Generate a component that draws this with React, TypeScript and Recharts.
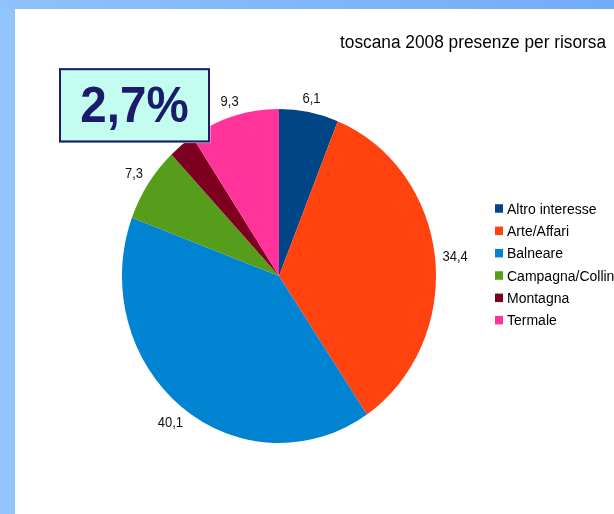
import { PieChart, Pie, Cell, Legend } from 'recharts'

// dati: presenze per risorsa, Toscana 2008 (%)
const categories = ['Altro interesse', 'Arte/Affari', 'Balneare', 'Campagna/Collina', 'Montagna', 'Termale']
const values = [6.1, 34.4, 40.1, 7.3, 2.7, 9.3]
const colors = ['#004586', '#ff420e', '#0084d1', '#579d1c', '#7e0021', '#ff3399']
const title = 'toscana 2008 presenze per risorsa'
const highlight = '2,7%'

const data = categories.map((name, i) => ({ name, value: values[i] }))

// the original image is stretched vertically, so the whole drawing is too
const K = 1.0637
const FONT = "'Liberation Sans', Arial, sans-serif"
const RAD = Math.PI / 180

const renderLabel = (props: any) => {
  const { cx, cy, midAngle, outerRadius, value } = props
  const a = -midAngle * RAD
  const cos = Math.cos(a)
  const sin = Math.sin(a)
  const text = String(value).replace('.', ',')
  const w = (text.length - 1) * 7.23 + 3.6
  const h = 9.5
  const o = 7 + (Math.abs(cos) * w) / 2 + (Math.abs(sin) * h) / 2
  const x = cx + (outerRadius + o) * cos
  const y = cy + (outerRadius + o) * sin
  return (
    <text x={x} y={y} textAnchor="middle" dominantBaseline="central" fontSize={13} fontFamily={FONT} fill="#111">
      {text}
    </text>
  )
}

const renderLegend = (props: any) => {
  const payload = props.payload || []
  return (
    <div style={{ fontFamily: FONT, fontSize: 14, color: '#000' }}>
      {payload.map((entry: any, i: number) => (
        <div key={i} style={{ height: 21, display: 'flex', alignItems: 'center', whiteSpace: 'nowrap' }}>
          <span style={{ width: 8, height: 8, background: entry.color || colors[i], marginRight: 4, flex: 'none' }} />
          <span>{entry.value}</span>
        </div>
      ))}
    </div>
  )
}

export default function App() {
  return (
    <div
      style={{
        position: 'absolute',
        left: 0,
        top: 0,
        width: 614,
        height: 514,
        overflow: 'hidden',
        background: '#92c5fa',
      }}
    >
      {/* cornice azzurra */}
      <div
        style={{
          position: 'absolute',
          left: 0,
          top: 0,
          width: 614,
          height: 9,
          background: 'linear-gradient(to right, #8fc2fb, #72acf6)',
        }}
      />
      <div style={{ position: 'absolute', left: 15, top: 9, right: 0, bottom: 0, background: '#fff' }} />

      <div
        style={{
          position: 'absolute',
          left: 0,
          top: 0,
          width: 614,
          height: 514 / K,
          transform: `scaleY(${K})`,
          transformOrigin: '0 0',
        }}
      >
        <div
          style={{
            position: 'absolute',
            left: 340,
            top: 31.3,
            fontFamily: FONT,
            fontSize: 17.3,
            lineHeight: 1,
            whiteSpace: 'nowrap',
            color: '#000',
          }}
        >
          {title}
        </div>

        <div style={{ position: 'absolute', left: 0, top: 0 }}>
          <PieChart width={614} height={483} margin={{ top: 0, right: 0, bottom: 0, left: 0 }}>
            <Pie
              data={data}
              dataKey="value"
              nameKey="name"
              cx={279}
              cy={259.5}
              outerRadius={157}
              startAngle={90}
              endAngle={-270}
              stroke="none"
              label={renderLabel}
              labelLine={false}
              isAnimationActive={false}
            >
              {data.map((d, i) => (
                <Cell key={d.name} fill={colors[i]} />
              ))}
            </Pie>
            <Legend
              layout="vertical"
              align="right"
              verticalAlign="top"
              content={renderLegend}
              wrapperStyle={{ left: 495, top: 185, width: 130 }}
            />
          </PieChart>
        </div>

        <div
          style={{
            position: 'absolute',
            left: 59,
            top: 64,
            width: 151,
            height: 70,
            boxSizing: 'border-box',
            border: '2px solid #1e1c6a',
            background: '#c2fdf0',
            display: 'flex',
            alignItems: 'center',
            justifyContent: 'center',
            fontFamily: FONT,
            fontWeight: 'bold',
            fontSize: 47.5,
            lineHeight: 1,
            color: '#1c1a6b',
          }}
        >
          {highlight}
        </div>
      </div>
    </div>
  )
}
